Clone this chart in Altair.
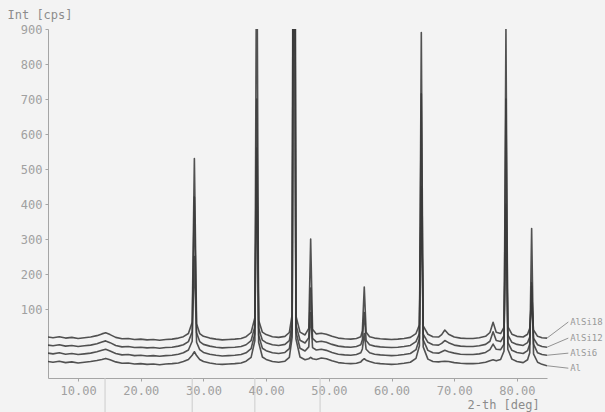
import altair as alt
import pandas as pd

# 2-theta positions (deg) shared by all four patterns
two_theta = [
    5.2, 6, 7, 8, 9, 10, 11, 12, 13, 13.8,
    14.4, 15.1, 16, 17, 18, 19, 20, 21, 22, 23,
    24, 25, 26, 26.8, 27.6, 28.2, 28.55, 28.9, 29.4, 30,
    31, 32, 33, 34, 35, 36, 36.8, 37.6, 38.2, 38.5,
    38.8, 39.4, 40, 41, 42, 43, 43.7, 44.15, 44.45, 44.75,
    45.4, 46.2, 46.8, 47.1, 47.4, 48.0, 48.8, 49.6, 50.5, 51.5,
    52.5, 53.5, 54.4, 55.1, 55.35, 55.65, 55.95, 56.5, 57.3, 58.2,
    59, 60, 61, 62, 63, 63.9, 64.45, 64.75, 65.05, 65.8,
    66.6, 67.5, 68.0, 68.5, 69.1, 70, 71, 72, 73, 74,
    75, 75.7, 76.2, 76.7, 77.4, 77.95, 78.25, 78.55, 79.2, 80,
    81, 81.7, 82.05, 82.35, 82.65, 83.3, 84, 84.8,
]

# intensities (cps, as plotted with vertical offsets)
al_si18 = [
    20, 18, 21, 17, 19, 16, 18, 20, 24, 29,
    32, 27, 19, 15, 16, 13, 14, 12, 13, 11,
    13, 14, 17, 21, 30, 62, 530, 58, 30, 22,
    17, 14, 12, 13, 14, 16, 21, 33, 75, 700,
    68, 34, 27, 21, 19, 22, 33, 85, 1500, 80,
    34, 26, 45, 300, 42, 29, 31, 28, 22, 17,
    15, 14, 16, 21, 38, 163, 34, 21, 17, 15,
    14, 13, 14, 16, 19, 30, 55, 440, 52, 28,
    21, 20, 27, 40, 28, 20, 17, 16, 16, 18,
    22, 33, 62, 34, 30, 48, 390, 50, 28, 22,
    20, 28, 45, 120, 40, 22, 18, 17,
]
al_si12 = [
    -3, -5, -2, -6, -4, -7, -5, -3, 1, 6,
    9, 4, -4, -8, -7, -10, -9, -11, -10, -12,
    -10, -9, -6, -2, 7, 35, 420, 32, 7, -1,
    -6, -9, -11, -10, -9, -7, -2, 10, 50, 530,
    45, 11, 4, -2, -4, -1, 10, 60, 2000, 55,
    11, 3, 18, 160, 16, 6, 8, 5, -1, -6,
    -8, -9, -7, -2, 12, 90, 10, -2, -6, -8,
    -9, -10, -9, -7, -4, 7, 30, 450, 28, 5,
    -2, -3, 2, 10, 4, -3, -6, -7, -7, -5,
    -1, 8, 35, 10, 7, 24, 400, 26, 5, -1,
    -4, 4, 20, 165, 17, -2, -7, -9,
]
al_si6 = [
    -26, -28, -25, -29, -27, -30, -28, -26, -22, -18,
    -15, -20, -27, -31, -30, -33, -32, -34, -33, -35,
    -33, -32, -29, -25, -17, 8, 250, 5, -16, -24,
    -29, -32, -34, -33, -32, -30, -25, -13, 30, 560,
    25, -12, -19, -25, -27, -24, -13, 40, 2500, 35,
    -12, -20, -8, 90, -10, -17, -15, -18, -24, -29,
    -31, -32, -30, -25, -14, 30, -15, -25, -29, -31,
    -32, -33, -32, -30, -27, -16, 15, 715, 12, -18,
    -25, -26, -22, -18, -22, -26, -29, -30, -30, -28,
    -24, -16, 0, -15, -16, 0, 700, 5, -18, -24,
    -27, -19, 0, 175, 0, -25, -30, -32,
]
al = [
    -50, -52, -49, -53, -51, -54, -52, -50, -47, -44,
    -41, -45, -51, -55, -54, -57, -56, -58, -57, -59,
    -57, -56, -54, -50, -44, -32, -22, -33, -44, -50,
    -54, -57, -58, -57, -56, -54, -49, -38, 10, 1300,
    5, -37, -44, -50, -52, -49, -38, 20, 3000, 15,
    -37, -45, -42, -38, -42, -44, -40, -42, -48, -53,
    -55, -56, -55, -51, -46, -42, -46, -50, -54, -56,
    -57, -58, -57, -55, -52, -41, -5, 890, -8, -43,
    -50, -51, -50, -49, -50, -53, -55, -56, -56, -55,
    -52, -48, -45, -48, -44, -20, 900, -15, -43, -50,
    -53, -45, -25, 330, -28, -52, -58, -62,
]

series_names = ["AlSi18", "AlSi12", "AlSi6", "Al"]
series_values = [al_si18, al_si12, al_si6, al]
label_y = [63, 17, -26, -69]
marker_lines = [14.3, 28.2, 38.2, 48.6]
x_ticks = [10, 20, 30, 40, 50, 60, 70, 80]
y_ticks = [100, 200, 300, 400, 500, 600, 700, 800, 900]

rows = []
for name, vals in zip(series_names, series_values):
    for t, v in zip(two_theta, vals):
        rows.append({"two_theta": t, "intensity": v, "sample": name})
df = pd.DataFrame(rows)

lab_df = pd.DataFrame({
    "name": series_names,
    "label_y": label_y,
    "end_y": [v[-1] for v in series_values],
    "x_end": [two_theta[-1]] * 4,
    "x_lab": [88.2] * 4,
    "x_text": [88.5] * 4,
})
mk_df = pd.DataFrame({"pos": marker_lines})

W, H = 499, 349
FONT = "DejaVu Sans Mono"
xscale = alt.Scale(domain=[5.2, 84.8], nice=False, zero=False)
yscale = alt.Scale(domain=[-97, 900], nice=False, zero=False)

x_axis = alt.Axis(
    values=x_ticks, format=".2f", title="2-th [deg]",
    titleX=419, titleY=30, titleAlign="left", titleBaseline="alphabetic",
    labelPadding=4, labelFlush=False)
y_axis = alt.Axis(
    values=y_ticks, format="d", title="Int [cps]", titleAngle=0,
    titleX=-41, titleY=-11, titleAlign="left", titleBaseline="alphabetic",
    labelPadding=3, labelFlush=False)

lines = alt.Chart(df).mark_line(
    clip=True, color="#3a3a3a", strokeWidth=1.6, strokeJoin="round", opacity=0.88
).encode(
    x=alt.X("two_theta:Q", scale=xscale, axis=x_axis),
    y=alt.Y("intensity:Q", scale=yscale, axis=y_axis),
    detail="sample:N",
)

markers = alt.Chart(mk_df).mark_rule(color="#cccccc", strokeWidth=1, clip=False).encode(
    x=alt.X("pos:Q", scale=xscale, axis=x_axis),
    y=alt.value(H),
    y2=alt.value(H + 34),
)

leaders = alt.Chart(lab_df).mark_rule(color="#7a7a7a", strokeWidth=0.8, clip=False).encode(
    x=alt.X("x_end:Q", scale=xscale, axis=x_axis),
    x2="x_lab:Q",
    y=alt.Y("end_y:Q", scale=yscale, axis=y_axis),
    y2="label_y:Q",
)

labels = alt.Chart(lab_df).mark_text(
    align="left", baseline="middle", font=FONT, fontSize=9, color="#999999"
).encode(
    x=alt.X("x_text:Q", scale=xscale, axis=x_axis),
    y=alt.Y("label_y:Q", scale=yscale, axis=y_axis),
    text="name:N",
)

chart = alt.layer(lines, markers, leaders, labels).properties(
    width=W, height=H,
    autosize=alt.AutoSizeParams(type="none"),
    padding={"left": 48, "top": 29, "right": 58, "bottom": 34},
    background="#f3f3f3",
).configure_view(stroke="transparent").configure_axis(
    grid=False,
    labelFont=FONT, labelFontSize=12, labelColor="#a0a0a0",
    titleFont=FONT, titleFontSize=12, titleColor="#8c8c8c", titleFontWeight="normal",
    domainColor="#a5a5a5", tickColor="#a5a5a5", tickSize=3,
)

chart.save("out.html", embed_options={"renderer": "svg", "actions": False})
